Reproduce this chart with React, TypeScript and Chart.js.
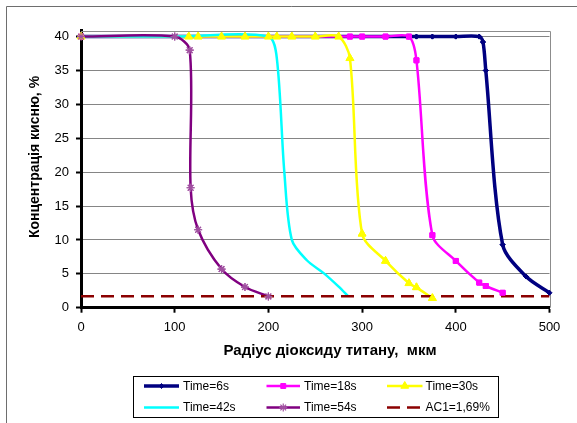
import React, { useEffect, useRef } from 'react';
import { Chart, registerables } from 'chart.js';
import { drawPoint } from 'chart.js/helpers';

Chart.register(...registerables);

// ---- data ----
const X_TICKS = [0, 100, 200, 300, 400, 500];
const Y_TICKS = [0, 5, 10, 15, 20, 25, 30, 35, 40];

const LABELS = ['Time=6s', 'Time=18s', 'Time=30s', 'Time=42s', 'Time=54s', 'AC1=1,69%'];

const radius6 = [0, 350, 358, 375, 400, 425, 429, 432, 450, 475, 500];
const conc6 = [40, 40, 40, 40, 40, 40, 39.2, 35, 9.3, 4.6, 2.2];

const radius18 = [0, 287, 300, 325, 350, 358, 375, 400, 425, 432, 450];
const conc18 = [40, 40, 40, 40, 40, 36.5, 10.7, 6.9, 3.7, 3.2, 2.2];

const radius30 = [0, 115, 125, 150, 175, 200, 209, 225, 250, 275, 287, 300, 325, 350, 358, 375];
const conc30 = [40, 40, 40, 40, 40, 40, 40, 40, 40, 40, 36.8, 10.9, 6.9, 3.6, 3.0, 1.4];

const radius42 = [0, 100, 200, 209, 217, 225, 241, 259, 275, 285];
const conc42 = [40, 40, 40, 36.8, 20, 10, 7, 5.1, 3.1, 1.7];

const radius54 = [0, 100, 116, 117, 125, 150, 175, 200];
const conc54 = [40, 40, 38, 17.7, 11.5, 5.7, 3.05, 1.67];

const radiusAC1 = [0, 500];
const concAC1 = [1.69, 1.69];

// ---- layout / style ----
const W = 577;
const H = 423;
const PLOT_LEFT = 81;
const PLOT_RIGHT = 549.5;
const PLOT_TOP = 30.5;
const PLOT_BOTTOM = 307.7;
const FONT = '"Liberation Sans", Arial, Helvetica, sans-serif';
const TENSION = 0.3;

const toPoints = (xs: number[], ys: number[]) => xs.map((x, i) => ({ x, y: ys[i] }));

export default function App() {
  const ref = useRef<HTMLCanvasElement>(null);

  useEffect(() => {
    const canvas = ref.current!;

    const frame = {
      id: 'frame',
      beforeDraw(chart: any) {
        const ctx = chart.ctx;
        ctx.save();
        ctx.fillStyle = '#ffffff';
        ctx.fillRect(0, 0, W, H);
        ctx.strokeStyle = '#6e6e6e';
        ctx.lineWidth = 1;
        ctx.beginPath();
        ctx.moveTo(6.5, H);
        ctx.lineTo(6.5, 6.5);
        ctx.lineTo(W, 6.5);
        ctx.stroke();
        ctx.restore();
      },
      beforeDatasetsDraw(chart: any) {
        const ctx = chart.ctx;
        const a = chart.chartArea;
        ctx.save();
        ctx.strokeStyle = '#8c8c8c';
        ctx.lineWidth = 1;
        ctx.beginPath();
        ctx.moveTo(a.left, Math.round(a.top) + 0.5);
        ctx.lineTo(Math.round(a.right) + 0.5, Math.round(a.top) + 0.5);
        ctx.lineTo(Math.round(a.right) + 0.5, a.bottom);
        ctx.stroke();
        ctx.restore();
      },
      afterDatasetsDraw(chart: any) {
        // markers above all lines, as in the original
        const ctx = chart.ctx;
        const n = chart.data.datasets.length;
        for (let i = 0; i < n; i++) {
          const meta = chart.getDatasetMeta(i);
          if (!meta.visible) continue;
          meta.data.forEach((pt: any) => pt.draw(ctx, chart.chartArea));
        }
      },
      afterDraw(chart: any) {
        const ctx = chart.ctx;
        ctx.save();
        ctx.fillStyle = '#000';
        ctx.textAlign = 'center';
        ctx.textBaseline = 'middle';
        ctx.font = `bold 15px ${FONT}`;
        ctx.fillText('Радіус діоксиду титану,  мкм', 330, 351);
        ctx.save();
        ctx.font = `bold 14px ${FONT}`;
        ctx.translate(35, 157);
        ctx.rotate(-Math.PI / 2);
        ctx.fillText('Концентрація кисню, %', 0, 0);
        ctx.restore();

        // legend
        ctx.strokeStyle = '#000';
        ctx.lineWidth = 1;
        ctx.strokeRect(133.5, 376.5, 365, 41);
        const colX1 = [144, 266.5, 387];
        const colX2 = [179, 300, 422.5];
        const textX = [183, 304, 425.5];
        const rowY = [386, 407.5];
        ctx.font = `12px ${FONT}`;
        ctx.textAlign = 'left';
        chart.data.datasets.forEach((ds: any, i: number) => {
          const c = i % 3;
          const r = Math.floor(i / 3);
          const y = rowY[r];
          ctx.save();
          ctx.strokeStyle = ds.borderColor;
          ctx.lineWidth = ds.borderWidth;
          ctx.setLineDash(ds.borderDash || []);
          ctx.beginPath();
          ctx.moveTo(colX1[c], y);
          ctx.lineTo(colX2[c], y);
          ctx.stroke();
          ctx.setLineDash([]);
          if (ds.pointRadius > 0) {
            ctx.fillStyle = ds.pointBackgroundColor;
            ctx.strokeStyle = ds.pointBorderColor;
            ctx.lineWidth = ds.pointBorderWidth;
            drawPoint(ctx, { pointStyle: ds.pointStyle, rotation: 0, radius: ds.pointRadius, borderWidth: ds.pointBorderWidth }, (colX1[c] + colX2[c]) / 2, y);
          }
          ctx.restore();
          ctx.fillStyle = '#000';
          ctx.fillText(LABELS[i], textX[c], y + 0.5);
        });
        ctx.restore();
      },
    };

    const base = {
      fill: false,
      tension: TENSION,
      cubicInterpolationMode: 'default' as const,
      pointHoverRadius: 0,
    };

    const chart = new Chart(canvas, {
      type: 'line',
      data: {
        datasets: [
          {
            ...base,
            label: LABELS[0],
            data: toPoints(radius6, conc6),
            borderColor: '#000080',
            borderWidth: 3.5,
            pointStyle: 'rectRot',
            pointRadius: 2.5,
            pointBackgroundColor: '#000080',
            pointBorderColor: '#000080',
            pointBorderWidth: 1,
            order: 5,
          },
          {
            ...base,
            label: LABELS[1],
            data: toPoints(radius18, conc18),
            borderColor: '#ff00ff',
            borderWidth: 2.5,
            pointStyle: 'rect',
            pointRadius: 3.5,
            pointBackgroundColor: '#ff00ff',
            pointBorderColor: '#ff00ff',
            pointBorderWidth: 1,
            order: 4,
          },
          {
            ...base,
            label: LABELS[2],
            data: toPoints(radius30, conc30),
            borderColor: '#ffff00',
            borderWidth: 2.5,
            pointStyle: 'triangle',
            pointRadius: 4.5,
            pointBackgroundColor: '#ffff00',
            pointBorderColor: '#ffff00',
            pointBorderWidth: 1,
            order: 3,
          },
          {
            ...base,
            label: LABELS[3],
            data: toPoints(radius42, conc42),
            borderColor: '#00ffff',
            borderWidth: 2.5,
            pointStyle: 'circle',
            pointRadius: 0,
            pointBackgroundColor: '#00ffff',
            pointBorderColor: '#00ffff',
            pointBorderWidth: 0,
            order: 2,
          },
          {
            ...base,
            label: LABELS[4],
            data: toPoints(radius54, conc54),
            borderColor: '#800080',
            borderWidth: 2.5,
            pointStyle: 'star',
            pointRadius: 4,
            pointBackgroundColor: '#a050a0',
            pointBorderColor: '#a050a0',
            pointBorderWidth: 1.2,
            order: 1,
          },
          {
            ...base,
            label: LABELS[5],
            data: toPoints(radiusAC1, concAC1),
            borderColor: '#8b0000',
            borderWidth: 2.5,
            borderDash: [13, 7],
            tension: 0,
            pointStyle: 'circle',
            pointRadius: 0,
            pointBackgroundColor: '#8b0000',
            pointBorderColor: '#8b0000',
            pointBorderWidth: 0,
            order: 0,
          },
        ] as any,
      },
      options: {
        animation: false,
        responsive: false,
        maintainAspectRatio: false,
        devicePixelRatio: 1,
        events: [],
        layout: { padding: { left: 0, right: W - PLOT_RIGHT, top: PLOT_TOP, bottom: 0 } },
        plugins: {
          legend: { display: false },
          tooltip: { enabled: false },
          title: { display: false },
        },
        scales: {
          x: {
            type: 'linear',
            min: 0,
            max: 500,
            afterFit: (s: any) => {
              s.height = H - PLOT_BOTTOM;
            },
            afterBuildTicks: (s: any) => {
              s.ticks = X_TICKS.map((v) => ({ value: v }));
            },
            ticks: {
              color: '#000',
              font: { family: FONT, size: 13 },
              padding: 7,
              maxRotation: 0,
              autoSkip: false,
            },
            grid: {
              drawOnChartArea: false,
              drawTicks: true,
              tickLength: 5,
              tickWidth: 2,
              tickColor: '#000',
            },
            border: { display: true, color: '#000', width: 3 },
          },
          y: {
            type: 'linear',
            min: 0,
            max: 40.9,
            afterFit: (s: any) => {
              s.width = PLOT_LEFT;
            },
            afterBuildTicks: (s: any) => {
              s.ticks = Y_TICKS.map((v) => ({ value: v }));
            },
            ticks: {
              color: '#000',
              font: { family: FONT, size: 13 },
              padding: 7,
              autoSkip: false,
            },
            grid: {
              color: '#858585',
              lineWidth: 1,
              drawTicks: true,
              tickLength: 5,
              tickWidth: 2,
              tickColor: '#000',
            },
            border: { display: true, color: '#000', width: 3 },
          },
        },
      },
      plugins: [frame],
    } as any);

    return () => chart.destroy();
  }, []);

  return (
    <div style={{ position: 'fixed', left: 0, top: 0, width: W, height: H, background: '#fff', overflow: 'hidden' }}>
      <canvas ref={ref} width={W} height={H} style={{ display: 'block', width: W, height: H }} />
    </div>
  );
}
